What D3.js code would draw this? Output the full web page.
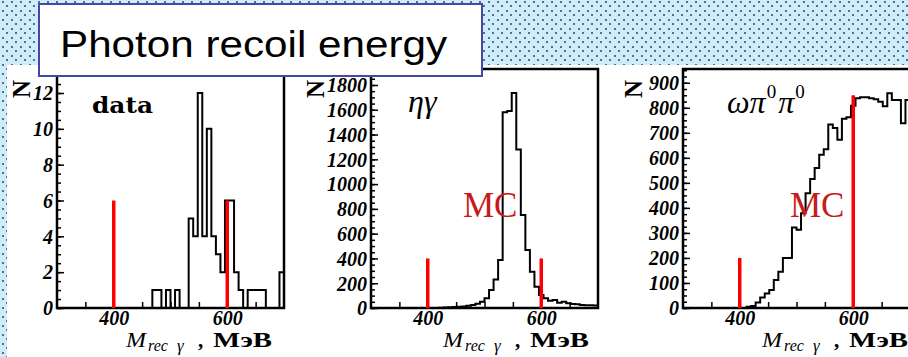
<!DOCTYPE html>
<html>
<head>
<meta charset="utf-8">
<title>Photon recoil energy</title>
<script src="https://d3js.org/d3.v7.min.js"></script>
<style>
  body { margin: 0; background: #fff; }
  svg { display: block; }
</style>
</head>
<body>
<script>
// histogram binning (MeV): 50 bins of 8 MeV from 300 to 700
const binStart = 300
const binWidth = 8
const xDomain = [300, 700]

const dataCounts = [
  0, 0, 0, 0, 0, 0, 0, 0, 0, 0,
  0, 0, 0, 0, 0, 0, 0, 0, 0, 0,
  0, 1, 1, 0, 1, 0, 1, 0, 0, 5,
  4, 12, 4, 10, 4, 3, 2, 6, 6, 2,
  1, 0, 1, 1, 1, 1, 0, 0, 0, 2
]
const etaGammaCounts = [
  0, 0, 0, 0, 0, 0, 0, 0, 0, 0,
  0, 0, 0, 0, 0, 2, 4, 6, 8, 10,
  13, 18, 25, 35, 51, 78, 145, 231, 387, 1580,
  1590, 1735, 1280, 750, 468, 293, 172, 105, 78, 59,
  64, 43, 51, 38, 32, 30, 24, 22, 22, 20
]
const omegaPiPiCounts = [
  0, 0, 0, 0, 0, 0, 0, 0, 0, 0,
  0, 0, 0, 0, 5, 8, 22, 42, 58, 72,
  112, 145, 200, 200, 322, 313, 379, 459, 515, 559,
  612, 634, 733, 719, 672, 756, 762, 808, 838, 842,
  842, 838, 834, 824, 806, 858, 831, 831, 738, 831
]

// red cut markers
const cutPositions = [400, 600]
const dataCutHeights = [6, 6]
const etaGammaCutHeights = [400, 400]
const omegaPiPiCutHeights = [200, 850]

// axis ticks
const xTickValues = [350, 400, 450, 500, 550, 600, 650]
const xLabelValues = [400, 600]
const dataYTicks = [0, 2, 4, 6, 8, 10, 12]
const etaGammaYTicks = [0, 200, 400, 600, 800, 1000, 1200, 1400, 1600, 1800]
const omegaPiPiYTicks = [0, 100, 200, 300, 400, 500, 600, 700, 800, 900]

const width = 908
const height = 357
const plotTop = 69
const plotBottom = 308
const plotW = 227

const serif = "'Liberation Serif', 'Times New Roman', serif"

const svg = d3.select('body').append('svg')
  .attr('width', width)
  .attr('height', height)

// dotted blue backdrop
const defs = svg.append('defs')
const pat = defs.append('pattern')
  .attr('id', 'dots')
  .attr('patternUnits', 'userSpaceOnUse')
  .attr('width', 9).attr('height', 9)
pat.append('rect').attr('width', 9).attr('height', 9).attr('fill', '#cdedfc')
pat.append('rect').attr('x', 2).attr('y', 1).attr('width', 2).attr('height', 2).attr('fill', '#5e6e80')
pat.append('rect').attr('x', 6).attr('y', 5).attr('width', 2).attr('height', 2).attr('fill', '#5e6e80')

svg.append('rect')
  .attr('width', width).attr('height', height)
  .attr('fill', 'url(#dots)')

svg.append('rect')
  .attr('x', 7).attr('y', 65)
  .attr('width', width - 7).attr('height', height - 65)
  .attr('fill', '#fff')

const panels = [
  { counts: dataCounts, cuts: dataCutHeights, yTicks: dataYTicks, yTop: 13.34, minor: 0.5,
    left: 57, nX: -36, titleX: 126 },
  { counts: etaGammaCounts, cuts: etaGammaCutHeights, yTicks: etaGammaYTicks, yTop: 1929, minor: 50,
    left: 371, nX: -56, titleX: 443, mcX: 463 },
  { counts: omegaPiPiCounts, cuts: omegaPiPiCutHeights, yTicks: omegaPiPiYTicks, yTop: 955, minor: 25,
    left: 683, nX: -50, titleX: 762, mcX: 790 }
]

function styleLabels (sel, size) {
  sel.selectAll('text')
    .attr('font-family', serif)
    .attr('font-size', size)
    .attr('font-weight', 'bold')
    .attr('font-style', 'italic')
    .attr('fill', '#000')
}

function drawPanel (p) {
  const x = d3.scaleLinear().domain(xDomain).range([p.left, p.left + plotW])
  const y = d3.scaleLinear().domain([0, p.yTop]).range([plotBottom, plotTop])
  const g = svg.append('g')

  // y minor ticks
  const minorAxis = g.append('g')
    .attr('transform', `translate(${p.left},0)`)
    .call(d3.axisLeft(y).tickValues(d3.range(0, p.yTop, p.minor)).tickSize(-4).tickFormat(''))
  minorAxis.select('.domain').remove()
  minorAxis.selectAll('line').attr('stroke-width', 1.5)

  // y major ticks + labels
  const yAxis = g.append('g')
    .attr('transform', `translate(${p.left},0)`)
    .call(d3.axisLeft(y).tickValues(p.yTicks).tickSize(-7).tickPadding(4).tickFormat(d3.format('d')))
  yAxis.select('.domain').remove()
  yAxis.selectAll('line').attr('stroke-width', 1.5)
  styleLabels(yAxis, 20)
  yAxis.selectAll('text').attr('dy', '0.34em')

  // x ticks + labels
  const xAxis = g.append('g')
    .attr('transform', `translate(0,${plotBottom})`)
    .call(d3.axisBottom(x).tickValues(xTickValues).tickSize(-6).tickPadding(3)
      .tickFormat(d => xLabelValues.includes(d) ? String(d) : ''))
  xAxis.select('.domain').remove()
  xAxis.selectAll('line').attr('stroke-width', 1.5)
  styleLabels(xAxis, 20)

  // histogram outline
  const pts = p.counts.map((c, i) => [binStart + i * binWidth, c])
  pts.unshift([binStart, 0])
  pts.push([xDomain[1], p.counts[p.counts.length - 1]])
  pts.push([xDomain[1], 0])
  const line = d3.line()
    .x(d => x(d[0]))
    .y(d => y(d[1]))
    .curve(d3.curveStepAfter)
  g.append('path')
    .attr('d', line(pts))
    .attr('fill', 'none')
    .attr('stroke', '#000')
    .attr('stroke-width', 2)

  // frame
  g.append('rect')
    .attr('x', p.left).attr('y', plotTop)
    .attr('width', plotW).attr('height', plotBottom - plotTop)
    .attr('fill', 'none')
    .attr('stroke', '#000')
    .attr('stroke-width', 2.5)

  // cut lines
  g.selectAll('.cut')
    .data(cutPositions.map((pos, i) => ({ pos, h: p.cuts[i] })))
    .join('line')
      .attr('class', 'cut')
      .attr('x1', d => x(d.pos)).attr('x2', d => x(d.pos))
      .attr('y1', y(0)).attr('y2', d => y(d.h))
      .attr('stroke', '#ff0000')
      .attr('stroke-width', 3.5)

  // "N" axis title
  g.append('text')
    .attr('transform', `translate(${p.left + p.nX},${plotTop + 20}) rotate(-90)`)
    .attr('text-anchor', 'middle')
    .attr('dominant-baseline', 'central')
    .attr('font-family', serif)
    .attr('font-weight', 'bold')
    .attr('font-size', 25)
    .text('N')

  // x axis title: M_rec γ , МэВ
  const t = g.append('g').attr('transform', `translate(${p.titleX},347)`)
  t.append('text').attr('font-family', serif).attr('font-style', 'italic')
    .attr('font-size', 21).attr('textLength', 20).attr('lengthAdjust', 'spacingAndGlyphs').text('M')
  t.append('text').attr('x', 22).attr('y', 4).attr('font-family', serif).attr('font-style', 'italic')
    .attr('font-size', 16).text('rec')
  t.append('text').attr('x', 51).attr('y', 4).attr('font-family', serif).attr('font-style', 'italic')
    .attr('font-size', 17).text('γ')
  t.append('text').attr('x', 72).attr('font-family', serif).attr('font-weight', 'bold')
    .attr('font-size', 21).text(',')
  t.append('text').attr('x', 87).attr('font-family', serif).attr('font-weight', 'bold')
    .attr('font-size', 20).attr('textLength', 59).attr('lengthAdjust', 'spacingAndGlyphs')
    .text('МэВ')

  if (p.mcX) {
    g.append('text')
      .attr('x', p.mcX).attr('y', 217)
      .attr('font-family', serif)
      .attr('font-size', 35)
      .attr('fill', '#c81a1a')
      .text('MC')
  }
}

panels.forEach(drawPanel)

// panel captions
svg.append('text')
  .attr('x', 92).attr('y', 113)
  .attr('font-family', "'DejaVu Serif', serif")
  .attr('font-weight', 'bold')
  .attr('font-size', 22)
  .attr('textLength', 61).attr('lengthAdjust', 'spacingAndGlyphs')
  .text('data')

svg.append('text')
  .attr('x', 408).attr('y', 112)
  .attr('font-family', serif)
  .attr('font-style', 'italic')
  .attr('font-size', 32)
  .text('ηγ')

const om = svg.append('text')
  .attr('x', 727).attr('y', 113)
  .attr('font-family', serif)
  .attr('font-size', 32)
om.append('tspan').attr('font-style', 'italic').text('ωπ')
om.append('tspan').attr('font-size', 19).attr('dy', -15).attr('dx', 1).text('0')
om.append('tspan').attr('font-style', 'italic').attr('dy', 15).attr('dx', 2).text('π')
om.append('tspan').attr('font-size', 19).attr('dy', -15).attr('dx', 1).text('0')

// title box
svg.append('rect')
  .attr('x', 39).attr('y', 4)
  .attr('width', 443).attr('height', 72)
  .attr('fill', '#fff')
  .attr('stroke', '#4646a5')
  .attr('stroke-width', 2)

svg.append('text')
  .attr('x', 60).attr('y', 57)
  .attr('font-family', "'Liberation Sans', Arial, sans-serif")
  .attr('font-size', 37)
  .attr('textLength', 387).attr('lengthAdjust', 'spacingAndGlyphs')
  .attr('fill', '#000')
  .text('Photon recoil energy')
</script>
</body>
</html>
